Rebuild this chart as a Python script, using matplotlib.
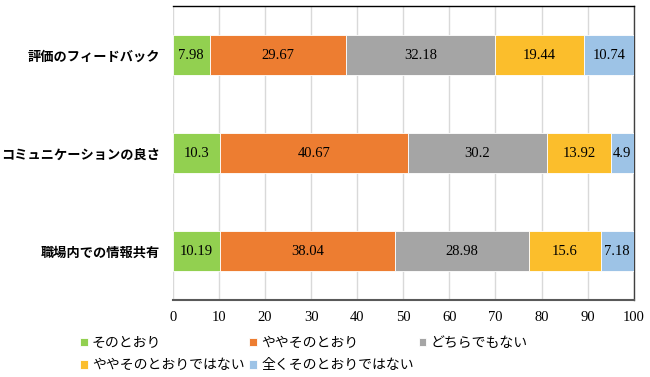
import matplotlib.pyplot as plt
import numpy as np

plt.rcParams['font.family'] = ['Noto Sans CJK JP', 'DejaVu Sans']

categories = ["評価のフィードバック", "コミュニケーションの良さ", "職場内での情報共有"]
series_names = ["そのとおり", "ややそのとおり", "どちらでもない", "ややそのとおりではない", "全くそのとおりではない"]
values = [
    [7.98, 10.3, 10.19],
    [29.67, 40.67, 38.04],
    [32.18, 30.2, 28.98],
    [19.44, 13.92, 15.6],
    [10.74, 4.9, 7.18],
]
labels = [
    ["7.98", "10.3", "10.19"],
    ["29.67", "40.67", "38.04"],
    ["32.18", "30.2", "28.98"],
    ["19.44", "13.92", "15.6"],
    ["10.74", "4.9", "7.18"],
]
colors = ["#92D050", "#ED7D31", "#A5A5A5", "#FBBE2C", "#9DC3E6"]
xticks = [0, 10, 20, 30, 40, 50, 60, 70, 80, 90, 100]


def main():
    fig = plt.figure(figsize=(6.5, 3.77), dpi=100)
    ax = fig.add_axes([0.266, 0.204, 0.709, 0.78])

    y = np.arange(len(categories))
    left = np.zeros(len(categories))
    handles = []
    for vals, labs, name, col in zip(values, labels, series_names, colors):
        bars = ax.barh(y, vals, left=left, height=0.4, color=col,
                       edgecolor="white", linewidth=0.6, label=name, zorder=3)
        handles.append(bars)
        for yi, v, l, lab in zip(y, vals, left, labs):
            ax.text(l + v / 2, yi, lab, ha="center", va="center",
                    fontsize=10.5, family="Liberation Serif", zorder=4)
        left = left + np.array(vals)

    ax.set_xlim(0, 100)
    ax.set_ylim(-0.5, 2.5)
    ax.invert_yaxis()
    ax.set_xticks(xticks)
    ax.set_xticklabels([str(t) for t in xticks], family="Liberation Serif", fontsize=10.5)
    ax.set_yticks(y)
    ax.set_yticklabels(categories, fontsize=9.5, fontweight="bold")
    ax.tick_params(length=0, pad=8)
    ax.tick_params(axis="y", pad=9)
    ax.xaxis.grid(True, color="#D9D9D9", linewidth=1, zorder=0)

    ax.spines["left"].set_visible(False)
    ax.spines["top"].set_color("black")
    ax.spines["top"].set_linewidth(1)
    ax.spines["right"].set_color("#404040")
    ax.spines["right"].set_linewidth(1)
    ax.spines["bottom"].set_color("#595959")
    ax.spines["bottom"].set_linewidth(1.5)

    # column-major fill, so reorder to get rows: A B C / D E
    order = [0, 3, 1, 4, 2]
    fig.legend([handles[i] for i in order], [series_names[i] for i in order],
               ncol=3, loc="upper left", bbox_to_anchor=(80 / 650, 1 - 336 / 377),
               frameon=False, fontsize=10, handlelength=0.55, handleheight=0.55,
               handletextpad=0.3, columnspacing=0.35, labelspacing=0.6,
               borderpad=0, borderaxespad=0)

    fig.savefig("out.png", dpi=100)


if __name__ == "__main__":
    main()
